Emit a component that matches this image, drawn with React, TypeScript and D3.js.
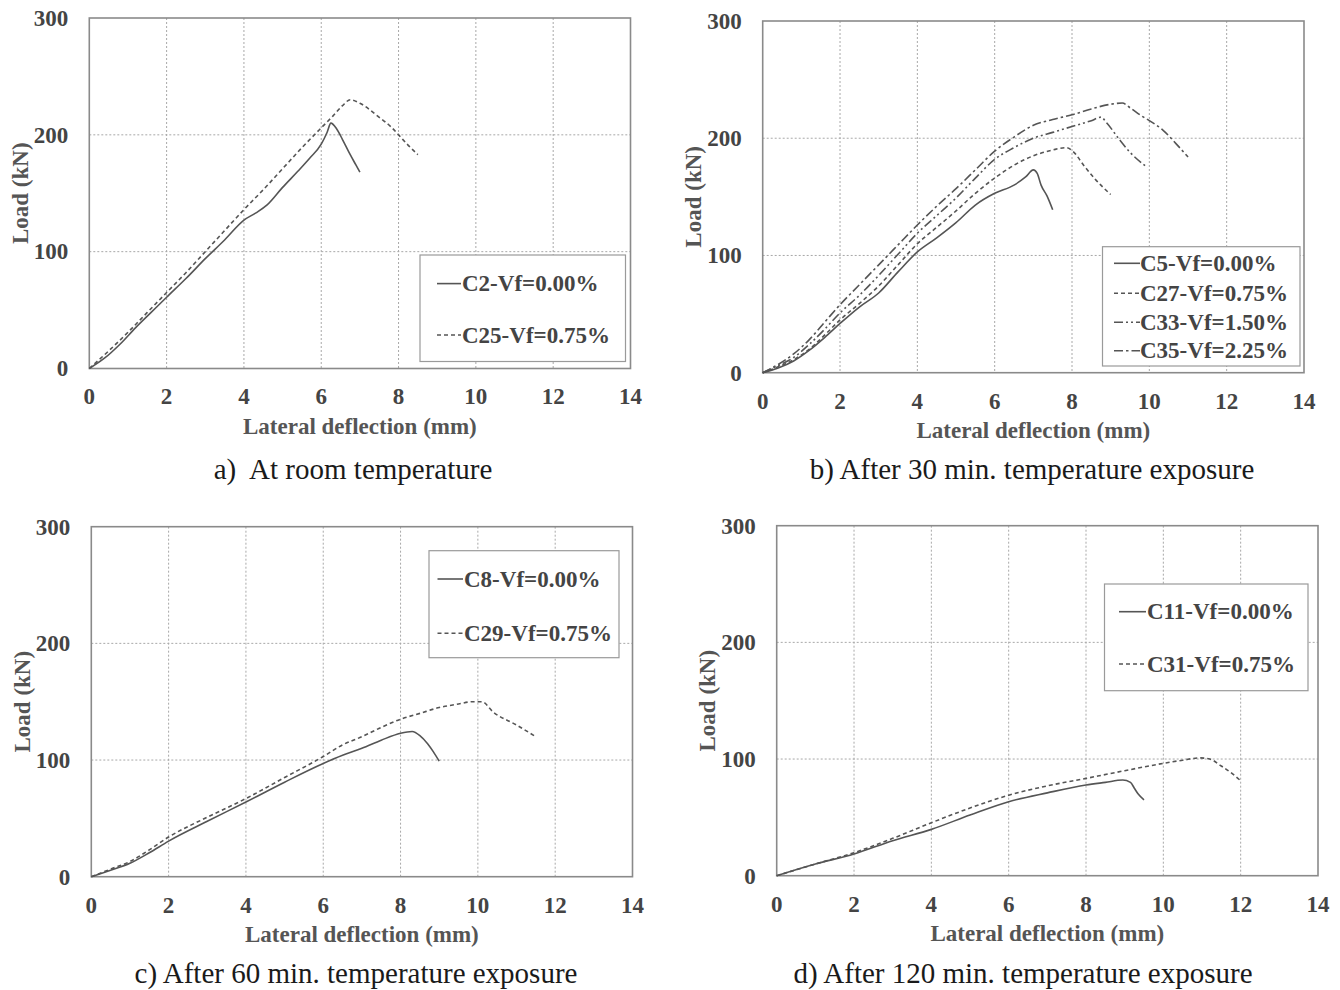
import React from 'react';
import * as d3 from 'd3';

// ---------- tick labels ----------
const X_TICKS = [0, 2, 4, 6, 8, 10, 12, 14];
const Y_TICKS = [0, 100, 200, 300];

// ---------- a) room temperature ----------
const C2_X = [0, 0.4, 0.8, 1.2, 1.6, 2.0, 2.5, 3.0, 3.5, 4.0, 4.3, 4.6, 5.0, 5.4, 5.7, 6.0, 6.15, 6.25, 6.4, 6.55, 6.75, 6.9, 7.0];
const C2_Y = [0, 9, 21, 35, 48, 61, 77, 94, 110, 127, 133, 140, 155, 169, 180, 192, 202, 210, 205, 196, 183, 174, 168];
const C25_X = [0, 0.5, 1, 1.5, 2, 2.5, 3, 3.5, 4, 4.5, 5, 5.5, 6, 6.3, 6.55, 6.75, 7.0, 7.5, 7.8, 8.0, 8.25, 8.5];
const C25_Y = [0, 15, 31, 48, 65, 82, 100, 118, 136, 153, 171, 189, 206, 216, 225, 230, 227, 215, 207, 200, 191, 183];

// ---------- b) 30 min ----------
const C5_X = [0, 0.4, 0.8, 1.2, 1.6, 2.0, 2.5, 3.0, 3.5, 4.0, 4.5, 5.0, 5.5, 6.0, 6.5, 6.8, 7.0, 7.1, 7.2, 7.35, 7.5];
const C5_Y = [0, 4, 10, 19, 30, 42, 56, 68, 86, 103, 115, 128, 143, 153, 160, 167, 173, 170, 160, 151, 139];
const C27_X = [0, 0.4, 0.8, 1.2, 1.6, 2.0, 2.5, 3.0, 3.5, 4.0, 4.5, 5.0, 5.5, 6.0, 6.5, 7.0, 7.5, 7.85, 8.05, 8.3, 8.6, 9.0];
const C27_Y = [0, 5, 11, 20, 32, 45, 59, 74, 92, 110, 124, 138, 153, 166, 177, 185, 190, 192, 188, 177, 165, 152];
const C33_X = [0, 0.4, 0.8, 1.2, 1.6, 2.0, 2.5, 3.0, 3.5, 4.0, 4.5, 5.0, 5.5, 6.0, 6.5, 7.0, 7.5, 8.0, 8.5, 8.75, 8.9, 9.2, 9.5, 9.95];
const C33_Y = [0, 6, 13, 24, 37, 51, 66, 83, 101, 119, 134, 149, 166, 182, 192, 200, 205, 210, 215, 218, 213, 200, 188, 175];
const C35_X = [0, 0.4, 0.8, 1.2, 1.6, 2.0, 2.5, 3.0, 3.5, 4.0, 4.5, 5.0, 5.5, 6.0, 6.5, 7.0, 7.5, 8.0, 8.5, 9.0, 9.3, 9.5, 9.8, 10.0, 10.35, 10.7, 11.0];
const C35_Y = [0, 7, 16, 28, 43, 58, 75, 92, 109, 126, 142, 157, 173, 189, 201, 211, 216, 220, 225, 229, 230, 226, 219, 215, 207, 195, 184];

// ---------- c) 60 min ----------
const C8_X = [0, 0.5, 1, 1.5, 2, 3, 4, 5, 6, 6.5, 7, 7.5, 8, 8.3, 8.5, 8.7, 8.85, 9.0];
const C8_Y = [0, 5.5, 11.5, 20.5, 30.5, 47.5, 64, 81, 97, 104, 110, 117, 123, 124.5, 121, 114, 107, 99];
const C29_X = [0, 0.5, 1, 1.5, 2, 3, 4, 5, 6, 6.5, 7, 7.5, 8, 8.5, 9, 9.5, 9.85, 10.1, 10.4, 11.0, 11.5];
const C29_Y = [0, 6.5, 13, 23, 34, 51, 67, 85, 103, 113, 120, 128, 135, 140, 145, 148, 150, 150, 141, 130, 120];

// ---------- d) 120 min ----------
const C11_X = [0, 1, 2, 3, 4, 5, 6, 7, 8, 8.5, 8.95, 9.15, 9.25, 9.35, 9.5];
const C11_Y = [0, 10, 18.6, 30, 39.7, 52, 63.4, 71, 77.7, 80, 82, 80, 75, 70, 65];
const C31_X = [0, 1, 2, 3, 4, 5, 6, 7, 8, 9, 10, 10.5, 10.95, 11.2, 11.5, 11.8, 12];
const C31_Y = [0, 10, 19.7, 32, 45.4, 58, 69, 77, 83.4, 90, 96.3, 99, 101, 100, 94, 87, 81.4];

// ---------- series per panel ----------
const PANEL_A = [
  { name: 'C2-Vf=0.00%', x: C2_X, y: C2_Y, kind: 'solid' },
  { name: 'C25-Vf=0.75%', x: C25_X, y: C25_Y, kind: 'dash' },
];
const PANEL_B = [
  { name: 'C5-Vf=0.00%', x: C5_X, y: C5_Y, kind: 'solid' },
  { name: 'C27-Vf=0.75%', x: C27_X, y: C27_Y, kind: 'dash' },
  { name: 'C33-Vf=1.50%', x: C33_X, y: C33_Y, kind: 'dashdotdot' },
  { name: 'C35-Vf=2.25%', x: C35_X, y: C35_Y, kind: 'dashdot' },
];
const PANEL_C = [
  { name: 'C8-Vf=0.00%', x: C8_X, y: C8_Y, kind: 'solid' },
  { name: 'C29-Vf=0.75%', x: C29_X, y: C29_Y, kind: 'dash' },
];
const PANEL_D = [
  { name: 'C11-Vf=0.00%', x: C11_X, y: C11_Y, kind: 'solid' },
  { name: 'C31-Vf=0.75%', x: C31_X, y: C31_Y, kind: 'dash' },
];
const CAPTIONS = [
  'a)  At room temperature',
  'b) After 30 min. temperature exposure',
  'c) After 60 min. temperature exposure',
  'd) After 120 min. temperature exposure',
];
const X_TITLE = 'Lateral deflection (mm)';
const Y_TITLE = 'Load (kN)';

// ---------- styles & layout ----------
const DASH: Record<string, string | undefined> = {
  solid: undefined,
  dash: '4,3',
  dashdotdot: '9,3,2,3,2,3',
  dashdot: '9,3,2.5,3',
};
const FONT = "'Liberation Serif', 'Times New Roman', Times, serif";
const CURVE = '#555555';
const TEXT = '#444444';

const LAYOUTS = [
  { left: 89.3, right: 630.5, top: 18, bottom: 368.5, cap: { x: 353, y: 469 },
    legend: { x0: 420, y0: 255, x1: 625.5, y1: 361.5, rows: [283.6, 335], sx0: 437, sx1: 461, tx: 462 } },
  { left: 762.7, right: 1304, top: 21, bottom: 372.7, cap: { x: 1032, y: 469 },
    legend: { x0: 1102.5, y0: 246.7, x1: 1300, y1: 366, rows: [263.3, 293.3, 322.3, 350.7], sx0: 1114, sx1: 1140, tx: 1140 } },
  { left: 91.3, right: 632.5, top: 526.7, bottom: 876.7, cap: { x: 356, y: 973 },
    legend: { x0: 429, y0: 550.7, x1: 619, y1: 657.7, rows: [579, 633.3], sx0: 437.5, sx1: 463, tx: 464 } },
  { left: 776.7, right: 1318, top: 525.7, bottom: 875.7, cap: { x: 1023, y: 973 },
    legend: { x0: 1104.5, y0: 584, x1: 1308, y1: 690.7, rows: [611.7, 664], sx0: 1119, sx1: 1146, tx: 1147 } },
];

type S = { name: string; x: number[]; y: number[]; kind: string };

function Panel({ series, layout, caption }: { series: S[]; layout: any; caption: string }) {
  const { left, right, top, bottom, legend, cap } = layout;
  const xs = d3.scaleLinear().domain([0, 14]).range([left, right]);
  const ys = d3.scaleLinear().domain([0, 300]).range([bottom, top]);
  const cx = (left + right) / 2;
  const cy = (top + bottom) / 2;
  return (
    <g>
      {X_TICKS.filter((t) => t > 0 && t < 14).map((t) => (
        <line key={'gx' + t} x1={xs(t)} x2={xs(t)} y1={top} y2={bottom}
          stroke="#a8a8a8" strokeWidth={1} strokeDasharray="2,2" />
      ))}
      {Y_TICKS.filter((t) => t > 0 && t < 300).map((t) => (
        <line key={'gy' + t} x1={left} x2={right} y1={ys(t)} y2={ys(t)}
          stroke="#a8a8a8" strokeWidth={1} strokeDasharray="2,2" />
      ))}
      <rect x={left} y={top} width={right - left} height={bottom - top}
        fill="none" stroke="#8a8a8a" strokeWidth={1.6} />
      {series.map((s) => {
        const idx = d3.range(s.x.length);
        const path = d3.line<number>()
          .x((i) => xs(s.x[i]))
          .y((i) => ys(s.y[i]))
          .curve(d3.curveMonotoneX)(idx);
        return (
          <path key={s.name} d={path || ''} fill="none" stroke={CURVE}
            strokeWidth={1.6} strokeDasharray={DASH[s.kind]} />
        );
      })}
      {X_TICKS.map((t) => (
        <text key={'tx' + t} x={xs(t)} y={bottom + 28 + 7.8} textAnchor="middle"
          fontFamily={FONT} fontWeight="bold" fontSize={23} fill={TEXT}>{t}</text>
      ))}
      {Y_TICKS.map((t) => (
        <text key={'ty' + t} x={left - 21} y={ys(t) + 7.8} textAnchor="end"
          fontFamily={FONT} fontWeight="bold" fontSize={23} fill={TEXT}>{t}</text>
      ))}
      <text x={cx} y={bottom + 57.5 + 7.6} textAnchor="middle" fontFamily={FONT}
        fontWeight="bold" fontSize={23} fill="#555555">{X_TITLE}</text>
      <text transform={`translate(${left - 69},${cy}) rotate(-90)`} x={0} y={7.6}
        textAnchor="middle" fontFamily={FONT} fontWeight="bold" fontSize={23} fill="#555555">{Y_TITLE}</text>
      <rect x={legend.x0} y={legend.y0} width={legend.x1 - legend.x0} height={legend.y1 - legend.y0}
        fill="#ffffff" stroke="#9a9a9a" strokeWidth={1.2} />
      {series.map((s, i) => (
        <g key={'lg' + s.name}>
          <line x1={legend.sx0} x2={legend.sx1} y1={legend.rows[i]} y2={legend.rows[i]}
            stroke={CURVE} strokeWidth={1.6} strokeDasharray={DASH[s.kind]} />
          <text x={legend.tx} y={legend.rows[i] + 7.6} fontFamily={FONT} fontWeight="bold"
            fontSize={23} fill={TEXT}>{s.name}</text>
        </g>
      ))}
      <text x={cap.x} y={cap.y + 9.6} textAnchor="middle" fontFamily={FONT} fontSize={29}
        fill="#1a1a1a" style={{ whiteSpace: 'pre' }} xmlSpace="preserve">{caption}</text>
    </g>
  );
}

export default function App() {
  const panels = [PANEL_A, PANEL_B, PANEL_C, PANEL_D];
  return (
    <svg width={1340} height={990} viewBox="0 0 1340 990"
      style={{ position: 'absolute', left: 0, top: 0, background: '#ffffff' }}>
      <rect x={0} y={0} width={1340} height={990} fill="#ffffff" />
      {panels.map((p, i) => (
        <Panel key={i} series={p as S[]} layout={LAYOUTS[i]} caption={CAPTIONS[i]} />
      ))}
    </svg>
  );
}
